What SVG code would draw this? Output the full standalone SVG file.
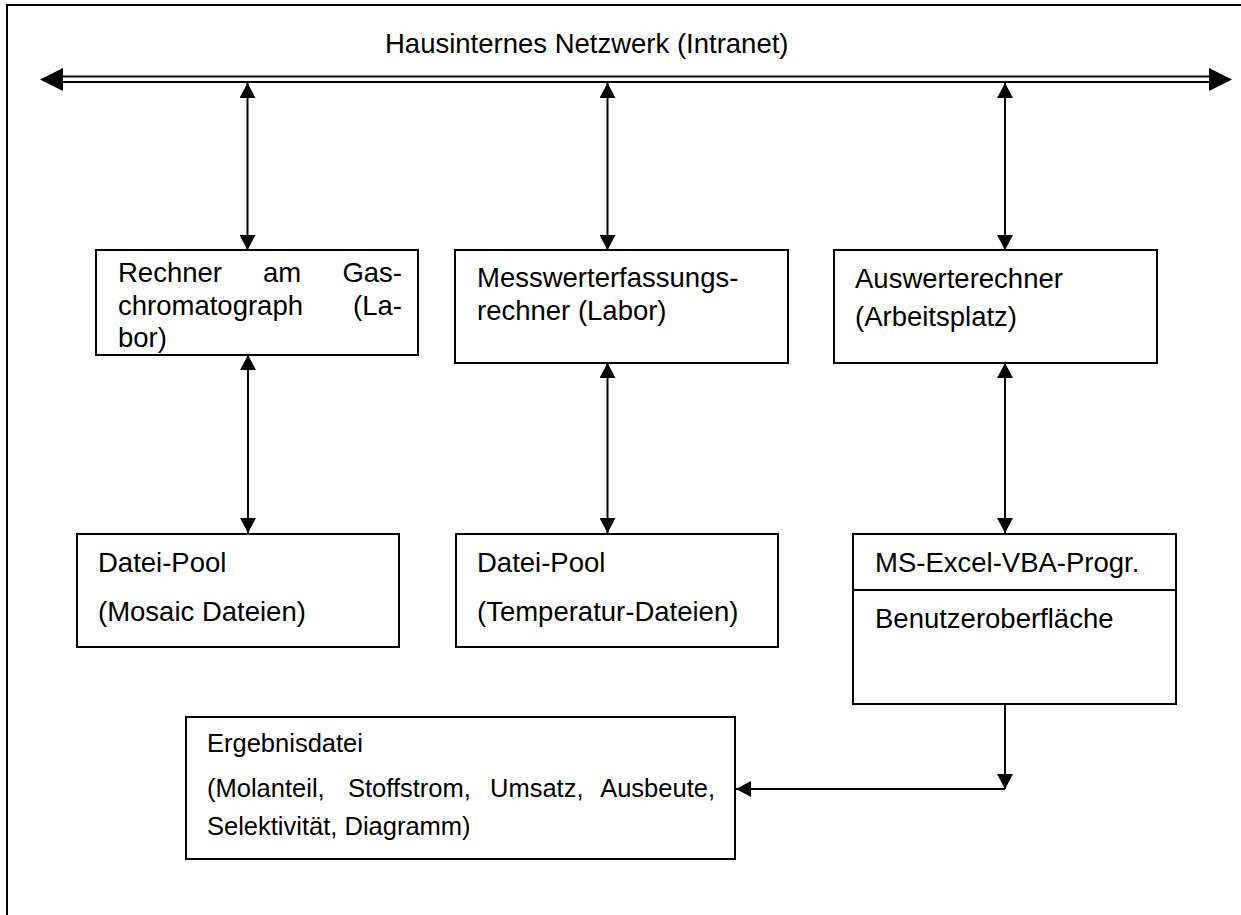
<svg xmlns="http://www.w3.org/2000/svg" width="1241" height="915" viewBox="0 0 1241 915">
  <style>
    .box { fill: #fff; stroke: #000; stroke-width: 2; }
    .lbl { font-family: "Liberation Sans", Arial, sans-serif; font-size: 27.5px; fill: #000; }
    .sm { font-size: 25.5px; }
    .wire { stroke: #000; stroke-width: 2; fill: none; }
    .bus { stroke: #000; stroke-width: 2.2; fill: none; }
    .head { fill: #000; }
  </style>
  <defs>
    <marker id="arr" viewBox="0 0 15 16" refX="15" refY="8" markerWidth="15" markerHeight="16" markerUnits="userSpaceOnUse" orient="auto-start-reverse">
      <path d="M0,0 L15,8 L0,16 Z" fill="#000"/>
    </marker>
  </defs>

  <rect width="1241" height="915" fill="#fff"/>

  <!-- page frame -->
  <g id="frame">
    <line x1="6" y1="5" x2="1241" y2="5" stroke="#000" stroke-width="2"/>
    <line x1="7" y1="4" x2="7" y2="915" stroke="#000" stroke-width="2"/>
  </g>

  <!-- intranet bus -->
  <g id="intranet">
    <text class="lbl" x="385" y="53">Hausinternes Netzwerk (Intranet)</text>
    <line class="bus" x1="60" y1="76.5" x2="1212" y2="76.5"/>
    <line class="bus" x1="60" y1="82" x2="1212" y2="82"/>
    <polygon class="head" points="40,79.5 63,68 63,91"/>
    <polygon class="head" points="1232,79.5 1209,68 1209,91"/>
  </g>

  <g id="connectors">
    <!-- bus to computers -->
    <line class="wire" x1="247.5" y1="83" x2="247.5" y2="250" marker-start="url(#arr)" marker-end="url(#arr)"/>
    <line class="wire" x1="607.5" y1="83" x2="607.5" y2="250" marker-start="url(#arr)" marker-end="url(#arr)"/>
    <line class="wire" x1="1005" y1="83" x2="1005" y2="250" marker-start="url(#arr)" marker-end="url(#arr)"/>
    <!-- computers to file pools / program -->
    <line class="wire" x1="248" y1="355" x2="248" y2="533" marker-start="url(#arr)" marker-end="url(#arr)"/>
    <line class="wire" x1="607.5" y1="363" x2="607.5" y2="533" marker-start="url(#arr)" marker-end="url(#arr)"/>
    <line class="wire" x1="1005" y1="363" x2="1005" y2="533" marker-start="url(#arr)" marker-end="url(#arr)"/>
    <!-- program to result file -->
    <line class="wire" x1="1005" y1="704" x2="1005" y2="789" marker-end="url(#arr)"/>
    <line class="wire" x1="1005" y1="789" x2="736" y2="789" marker-end="url(#arr)"/>
  </g>

  <g id="gc-rechner">
    <rect class="box" x="96" y="250" width="322" height="105"/>
    <text class="lbl" x="118" y="282">Rechner</text>
    <text class="lbl" x="282" y="282" text-anchor="middle">am</text>
    <text class="lbl" x="402" y="282" text-anchor="end">Gas-</text>
    <text class="lbl" x="118" y="315">chromatograph</text>
    <text class="lbl" x="402" y="315" text-anchor="end">(La-</text>
    <text class="lbl" x="118" y="347">bor)</text>
  </g>

  <g id="messwert-rechner">
    <rect class="box" x="455" y="250" width="333" height="113"/>
    <text class="lbl" x="477" y="287">Messwerterfassungs-</text>
    <text class="lbl" x="477" y="320">rechner (Labor)</text>
  </g>

  <g id="auswerte-rechner">
    <rect class="box" x="834" y="250" width="323" height="113"/>
    <text class="lbl" x="855" y="288">Auswerterechner</text>
    <text class="lbl" x="855" y="326">(Arbeitsplatz)</text>
  </g>

  <g id="pool-mosaic">
    <rect class="box" x="77" y="534" width="322" height="113"/>
    <text class="lbl" x="98" y="572">Datei-Pool</text>
    <text class="lbl" x="98" y="621">(Mosaic Dateien)</text>
  </g>

  <g id="pool-temperatur">
    <rect class="box" x="456" y="534" width="322" height="113"/>
    <text class="lbl" x="477" y="572">Datei-Pool</text>
    <text class="lbl" x="477" y="621">(Temperatur-Dateien)</text>
  </g>

  <g id="excel-vba">
    <rect class="box" x="853" y="534" width="323" height="170"/>
    <line x1="853" y1="590" x2="1176" y2="590" stroke="#000" stroke-width="2"/>
    <text class="lbl" x="875" y="572">MS-Excel-VBA-Progr.</text>
    <text class="lbl" x="875" y="628">Benutzeroberfläche</text>
  </g>

  <g id="ergebnisdatei">
    <rect class="box" x="186" y="717" width="549" height="142"/>
    <text class="lbl sm" x="207" y="752">Ergebnisdatei</text>
    <text class="lbl sm" x="207" y="797">(Molanteil,</text>
    <text class="lbl sm" x="348" y="797">Stoffstrom,</text>
    <text class="lbl sm" x="490" y="797">Umsatz,</text>
    <text class="lbl sm" x="715" y="797" text-anchor="end">Ausbeute,</text>
    <text class="lbl sm" x="207" y="835">Selektivität, Diagramm)</text>
  </g>
</svg>
